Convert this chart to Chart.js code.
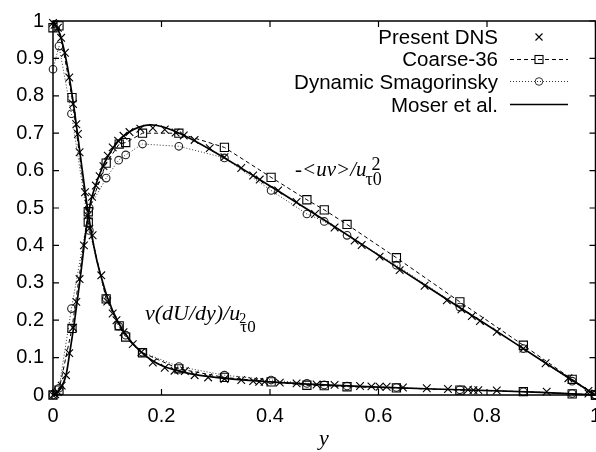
<!DOCTYPE html>
<html>
<head>
<meta charset="utf-8">
<script src="https://cdn.jsdelivr.net/npm/chart.js@4.4.1/dist/chart.umd.min.js"></script>
<style>
  html, body { margin: 0; padding: 0; background: #fff; overflow: hidden; }
  #wrap { width: 620px; height: 452px; }
</style>
</head>
<body>
<div id="wrap"><canvas id="chart" width="620" height="452"></canvas></div>
<script>
// tick labels
const xTicks = [0, 0.2, 0.4, 0.6, 0.8, 1];
const yTicks = [0, 0.1, 0.2, 0.3, 0.4, 0.5, 0.6, 0.7, 0.8, 0.9, 1];
const legendLabels = ["Present DNS", "Coarse-36", "Dynamic Smagorinsky", "Moser et al."];

// Present DNS, -<uv>
const dnsUvX = [0, 0.004, 0.009, 0.016, 0.024, 0.03, 0.037, 0.043, 0.049, 0.057, 0.064, 0.072, 0.079, 0.086, 0.093, 0.101, 0.11, 0.12, 0.13, 0.141, 0.161, 0.184, 0.206, 0.226, 0.241, 0.261, 0.289, 0.316, 0.347, 0.369, 0.381, 0.415, 0.449, 0.483, 0.519, 0.556, 0.569, 0.602, 0.639, 0.685, 0.726, 0.753, 0.772, 0.787, 0.818, 0.867, 0.908, 0.95, 0.987];
const dnsUvY = [0, 0.002, 0.008, 0.025, 0.053, 0.112, 0.18, 0.249, 0.31, 0.4, 0.48, 0.53, 0.56, 0.585, 0.612, 0.64, 0.662, 0.68, 0.693, 0.703, 0.712, 0.714, 0.71, 0.702, 0.694, 0.682, 0.66, 0.636, 0.607, 0.587, 0.576, 0.547, 0.516, 0.484, 0.448, 0.413, 0.401, 0.37, 0.334, 0.292, 0.253, 0.229, 0.211, 0.198, 0.169, 0.124, 0.085, 0.045, 0.011];

// Present DNS, viscous stress
const dnsViscX = [0, 0.003, 0.009, 0.015, 0.022, 0.03, 0.037, 0.043, 0.046, 0.049, 0.059, 0.067, 0.073, 0.089, 0.1, 0.11, 0.117, 0.13, 0.147, 0.163, 0.184, 0.206, 0.224, 0.243, 0.261, 0.286, 0.316, 0.347, 0.369, 0.38, 0.39, 0.418, 0.449, 0.486, 0.519, 0.566, 0.587, 0.602, 0.615, 0.645, 0.689, 0.728, 0.765, 0.775, 0.784, 0.818, 0.91, 0.987];
const dnsViscY = [0.995, 0.99, 0.982, 0.955, 0.915, 0.849, 0.778, 0.724, 0.698, 0.649, 0.542, 0.445, 0.427, 0.32, 0.25, 0.218, 0.2, 0.168, 0.136, 0.115, 0.087, 0.073, 0.065, 0.064, 0.053, 0.047, 0.043, 0.04, 0.037, 0.035, 0.035, 0.033, 0.031, 0.028, 0.027, 0.024, 0.023, 0.022, 0.022, 0.02, 0.018, 0.016, 0.014, 0.013, 0.013, 0.012, 0.009, 0.004];

// Coarse-36
const coarseX = [0, 0.011, 0.035, 0.065, 0.098, 0.122, 0.134, 0.165, 0.232, 0.316, 0.402, 0.468, 0.5, 0.542, 0.633, 0.75, 0.867, 0.957, 1];
const coarseUvY = [0, 0.013, 0.178, 0.49, 0.62, 0.671, 0.675, 0.7, 0.7, 0.662, 0.582, 0.522, 0.495, 0.456, 0.367, 0.249, 0.133, 0.042, 0];
const coarseViscY = [0.982, 0.987, 0.795, 0.462, 0.257, 0.185, 0.155, 0.113, 0.07, 0.047, 0.035, 0.026, 0.025, 0.022, 0.019, 0.013, 0.009, 0.003, 0];

// Dynamic Smagorinsky
const dsX = [0, 0.011, 0.034, 0.067, 0.098, 0.121, 0.134, 0.165, 0.232, 0.316, 0.402, 0.468, 0.5, 0.542, 0.633, 0.75, 0.867, 0.957, 1];
const dsUvY = [0, 0.018, 0.231, 0.5, 0.58, 0.628, 0.642, 0.671, 0.665, 0.634, 0.547, 0.484, 0.464, 0.427, 0.347, 0.235, 0.124, 0.037, 0];
const dsViscY = [0.871, 0.933, 0.752, 0.44, 0.258, 0.184, 0.16, 0.114, 0.076, 0.053, 0.04, 0.031, 0.027, 0.024, 0.02, 0.014, 0.009, 0.004, 0];

// Moser et al.
const moserUvX = [0, 0.01, 0.02, 0.025, 0.03, 0.04, 0.05, 0.06, 0.065, 0.07, 0.08, 0.09, 0.1, 0.12, 0.14, 0.16, 0.18, 0.2, 0.22, 0.25, 0.3, 0.35, 0.4, 0.5, 0.6, 0.7, 0.8, 0.9, 1];
const moserUvY = [0, 0.01, 0.035, 0.06, 0.105, 0.2, 0.31, 0.43, 0.48, 0.52, 0.567, 0.605, 0.635, 0.678, 0.703, 0.717, 0.722, 0.718, 0.708, 0.688, 0.648, 0.604, 0.559, 0.468, 0.374, 0.28, 0.187, 0.093, 0];
const moserViscX = [0, 0.01, 0.02, 0.03, 0.04, 0.05, 0.06, 0.07, 0.08, 0.09, 0.1, 0.12, 0.14, 0.16, 0.18, 0.2, 0.25, 0.3, 0.4, 0.5, 0.6, 0.7, 0.8, 0.9, 1];
const moserViscY = [1, 0.975, 0.925, 0.85, 0.755, 0.645, 0.535, 0.44, 0.365, 0.31, 0.262, 0.195, 0.15, 0.118, 0.095, 0.079, 0.058, 0.047, 0.035, 0.027, 0.021, 0.016, 0.012, 0.007, 0];

const pts = (xs, ys) => xs.map((x, i) => ({ x: x, y: ys[i] }));

const moserStyle = { showLine: true, borderColor: "#000", borderWidth: 1.7, pointRadius: 0, cubicInterpolationMode: "monotone" };
const coarseStyle = { showLine: true, borderColor: "#000", borderWidth: 1, borderDash: [4, 3], pointStyle: "rect", pointRadius: 5.8, pointBorderWidth: 1.1, pointBorderColor: "#000", pointBackgroundColor: "rgba(0,0,0,0)" };
const dsStyle = { showLine: true, borderColor: "#333", borderWidth: 1, borderDash: [1, 2], pointStyle: "circle", pointRadius: 3.8, pointBorderWidth: 1.1, pointBorderColor: "#222", pointBackgroundColor: "rgba(0,0,0,0)" };
const dnsStyle = { showLine: false, pointStyle: "crossRot", pointRadius: 5.4, pointBorderWidth: 1.1, pointBorderColor: "#000", pointBackgroundColor: "#000" };

const legendAndFrame = {
  id: "legendAndFrame",
  afterDraw(chart) {
    const { ctx, chartArea: a, scales } = chart;
    ctx.save();
    ctx.strokeStyle = "#000";
    ctx.fillStyle = "#000";
    ctx.setLineDash([]);

    // frame with inward ticks on all sides
    ctx.lineWidth = 1.5;
    ctx.strokeRect(a.left, a.top, a.right - a.left, a.bottom - a.top);
    ctx.lineWidth = 1.2;
    ctx.beginPath();
    xTicks.forEach(v => {
      const px = scales.x.getPixelForValue(v);
      ctx.moveTo(px, a.bottom); ctx.lineTo(px, a.bottom - 6);
      ctx.moveTo(px, a.top); ctx.lineTo(px, a.top + 6);
    });
    yTicks.forEach(v => {
      const py = scales.y.getPixelForValue(v);
      ctx.moveTo(a.left, py); ctx.lineTo(a.left + 6, py);
      ctx.moveTo(a.right, py); ctx.lineTo(a.right - 6, py);
    });
    ctx.stroke();

    // legend, gnuplot style: text right aligned, sample on the right
    const rows = [43.5, 66, 88.5, 111.5];
    ctx.font = '20.5px "Liberation Sans"';
    ctx.textAlign = "right";
    ctx.textBaseline = "alphabetic";
    legendLabels.forEach((t, i) => ctx.fillText(t, 498, rows[i]));

    const sx = 539;
    // Present DNS
    let sy = rows[0] - 6.5;
    ctx.lineWidth = 1.1;
    ctx.beginPath();
    ctx.moveTo(sx - 3.5, sy - 3.5); ctx.lineTo(sx + 3.5, sy + 3.5);
    ctx.moveTo(sx - 3.5, sy + 3.5); ctx.lineTo(sx + 3.5, sy - 3.5);
    ctx.stroke();
    // Coarse-36
    sy = rows[1] - 6.5;
    ctx.lineWidth = 1;
    ctx.setLineDash([4, 3]);
    ctx.beginPath(); ctx.moveTo(510, sy); ctx.lineTo(568, sy); ctx.stroke();
    ctx.setLineDash([]);
    ctx.lineWidth = 1.1;
    ctx.strokeRect(sx - 4, sy - 4, 8, 8);
    // Dynamic Smagorinsky
    sy = rows[2] - 7;
    ctx.strokeStyle = "#333";
    ctx.lineWidth = 1;
    ctx.setLineDash([1, 2]);
    ctx.beginPath(); ctx.moveTo(510, sy); ctx.lineTo(568, sy); ctx.stroke();
    ctx.setLineDash([]);
    ctx.beginPath(); ctx.arc(sx, sy, 3.8, 0, Math.PI * 2); ctx.stroke();
    // Moser et al.
    sy = rows[3] - 7;
    ctx.strokeStyle = "#000";
    ctx.lineWidth = 1.7;
    ctx.beginPath(); ctx.moveTo(510, sy); ctx.lineTo(568, sy); ctx.stroke();

    // curve labels
    ctx.textAlign = "left";
    ctx.font = 'italic 21px "Liberation Serif"';
    const main1 = "-<uv>/u";
    ctx.fillText(main1, 295, 176);
    let w = ctx.measureText(main1).width;
    ctx.font = '18px "Liberation Serif"';
    ctx.fillText("τ0", 295 + w - 1, 185);
    ctx.fillText("2", 295 + w + 5, 170);

    ctx.font = 'italic 22px "Liberation Serif"';
    const main2 = "ν(dU/dy)/u";
    ctx.fillText(main2, 145, 320);
    w = ctx.measureText(main2).width;
    ctx.font = '17px "Liberation Serif"';
    ctx.fillText("τ0", 145 + w, 331.5);
    ctx.font = '14px "Liberation Serif"';
    ctx.fillText("2", 145 + w - 1, 323);

    // x axis title
    ctx.textAlign = "center";
    ctx.font = 'italic 22px "Liberation Serif"';
    ctx.fillText("y", 324, 445);
    ctx.restore();
  }
};

const tickFont = { family: "Liberation Sans", size: 20 };

new Chart(document.getElementById("chart"), {
  type: "scatter",
  data: {
    datasets: [
      { ...moserStyle, data: pts(moserUvX, moserUvY) },
      { ...moserStyle, data: pts(moserViscX, moserViscY) },
      { ...coarseStyle, data: pts(coarseX, coarseUvY) },
      { ...coarseStyle, data: pts(coarseX, coarseViscY) },
      { ...dsStyle, data: pts(dsX, dsUvY) },
      { ...dsStyle, data: pts(dsX, dsViscY) },
      { ...dnsStyle, data: pts(dnsUvX, dnsUvY) },
      { ...dnsStyle, data: pts(dnsViscX, dnsViscY) },
    ].map(d => ({ ...d, clip: false })),
  },
  options: {
    responsive: false,
    animation: false,
    layout: { padding: { top: 20, right: 24.5, left: 0, bottom: 0 } },
    plugins: { legend: { display: false }, tooltip: { enabled: false } },
    scales: {
      x: {
        type: "linear",
        min: 0,
        max: 1,
        afterBuildTicks: s => { s.ticks = xTicks.map(v => ({ value: v })); },
        afterFit: s => { s.height = 57; },
        ticks: { font: tickFont, color: "#000", padding: 9, maxRotation: 0, callback: v => String(Math.round(v * 10) / 10) },
        grid: { display: false, drawTicks: false },
        border: { display: false },
      },
      y: {
        type: "linear",
        min: 0,
        max: 1,
        afterBuildTicks: s => { s.ticks = yTicks.map(v => ({ value: v })); },
        afterFit: s => { s.width = 53; },
        ticks: { font: tickFont, color: "#000", padding: 9, callback: v => String(Math.round(v * 10) / 10) },
        grid: { display: false, drawTicks: false },
        border: { display: false },
      },
    },
  },
  plugins: [legendAndFrame],
});
</script>
</body>
</html>
